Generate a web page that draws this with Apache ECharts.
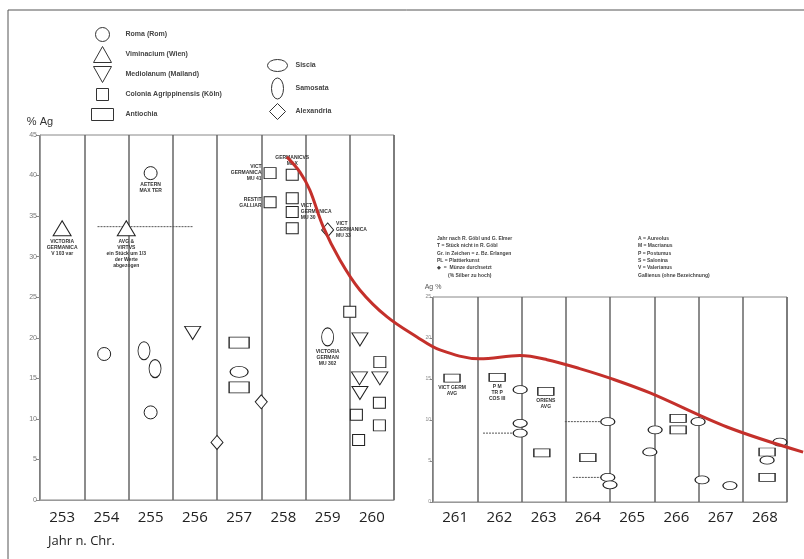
<!DOCTYPE html>
<html><head><meta charset="utf-8">
<script src="https://cdn.jsdelivr.net/npm/echarts@6/dist/echarts.min.js"></script>
<style>html,body{margin:0;padding:0;background:#fff}#c{width:804px;height:559px}</style>
</head><body><div id="c"></div>
<script>
// ---------- data ----------
const leftYears  = ['253','254','255','256','257','258','259','260'];
const rightYears = ['261','262','263','264','265','266','267','268'];
const mintNames = ['Roma (Rom)','Viminacium (Wien)','Mediolanum (Mailand)','Colonia Agrippinensis (Köln)','Antiochia','Siscia','Samosata','Alexandria'];

// left panel (year, % Ag, note)
const romaL       = [[255.0,40.3,'AETERN\nMAX TER'],[253.95,18.0],[255.0,10.8]];
const viminaciumL = [[253.0,33.5,'VICTORIA\nGERMANICA\nV 103 var'],[254.45,33.5,'AVG &\nVIRTVS\nein Stück um 1/3\nder Werte\nabgezogen']];
const mediolanumL = [[255.95,20.6],[259.73,19.8],[259.72,15.0],[259.73,13.2],[260.18,15.0]];
const coloniaL    = [[257.7,40.3,'VICT\nGERMANICA\nMU 41'],[257.7,36.7,'RESTIT\nGALLIAR'],[258.2,40.1,'GERMANICVS\nMAX'],[258.2,37.2],[258.2,35.5,'VICT\nGERMANICA\nMU 30'],[258.2,33.5],[259.5,23.2],[260.18,17.0],[260.17,12.0],[260.17,9.2],[259.65,10.5],[259.7,7.4]];
const antiochiaL  = [[257.0,19.4],[257.0,13.9]];
const sisciaL     = [[257.0,15.8]];
const samosataL   = [[254.85,18.4],[255.1,16.2],[259.0,20.1,'VICTORIA\nGERMAN\nMU 302']];
const alexandriaL = [[256.5,7.1],[257.5,12.1],[259.0,33.3,'VICT\nGERMANICA\nMU 33']];
const rangeL      = [[253.8,33.7],[255.96,33.7]];

// right panel (year, Ag %, note)
const antiochiaR = [[260.93,15.1,'VICT GERM\nAVG'],[261.95,15.2,'P M\nTR P\nCOS III'],[263.05,13.5,'ORIENS\nAVG'],[262.96,6.0],[264.0,5.4],[266.04,10.2],[266.04,8.8],[268.05,3.0],[268.05,6.1]];
const sisciaR    = [[262.47,13.7],[262.47,9.6],[262.47,8.4],[264.45,9.8],[264.45,3.0],[264.5,2.1],[265.52,8.8],[265.4,6.1],[266.49,9.8],[266.58,2.7],[267.21,2.0],[268.34,7.3],[268.05,5.1]];
const rangeR1 = [[261.63,8.4],[262.47,8.4]];
const rangeR2 = [[263.48,9.8],[264.45,9.8]];
const rangeR3 = [[263.66,3.0],[264.45,3.0]];

// trend curve (year on the left scale, % Ag)
const trendX = [258.08,258.38,258.6,258.9,259.28,259.73,260.34,261.02,261.54,262.44,263.35,263.96,264.7,265.45,266.29,268.03,269.75];
const trendY = [42.3,40.4,38.2,33.7,29.6,25.9,22.6,20.1,18.5,17.4,17.8,17.3,16.2,14.9,13.2,9.0,5.9];

const notesLeft  = ['Jahr nach R. Göbl und G. Elmer','T = Stück nicht in R. Göbl','Gr. in Zeichen = z. Bz. Erlangen','PL = Plattierkunst','◆  =  Münze durchsetzt','        (% Silber zu hoch)'];
const notesRight = ['A = Aureolus','M = Macrianus','P = Postumus','S = Salonina','V = Valerianus','Gallienus (ohne Bezeichnung)'];

// ---------- styling ----------
const notePos = {'RESTIT\nGALLIAR':'left','VICT\nGERMANICA\nMU 41':'left','GERMANICVS\nMAX':'top','VICT\nGERMANICA\nMU 30':'right','VICT\nGERMANICA\nMU 33':'right'};
const ICON = {
  circle:'path://M0,0M22,18M18,9A7,7,0,1,1,4,9A7,7,0,1,1,18,9Z',
  tri:'path://M0,0M22,18M11,1L20,17L2,17Z',
  inv:'path://M0,0M22,18M2,1L20,1L11,17Z',
  sq:'path://M0,0M22,18M5,3L17,3L17,15L5,15Z',
  rect:'path://M0,0M22,18M0,3L22,3L22,15L0,15Z',
  ell:'path://M0,0M22,22M21,11A10,6,0,1,1,1,11A10,6,0,1,1,21,11Z',
  vell:'path://M0,0M22,22M17,11A6,10.5,0,1,1,5,11A6,10.5,0,1,1,17,11Z',
  dia:'path://M0,0M22,22M11,3L19,11L11,19L3,11Z'
};
const SYM = {
  circle:'circle', tri:'triangle', inv:'path://M0,0L10,0L5,10Z', sq:'rect', rect:'rect',
  ell:'path://M0,5A5,5,0,1,1,10,5A5,5,0,1,1,0,5Z', vell:'path://M0,5A5,5,0,1,1,10,5A5,5,0,1,1,0,5Z', dia:'diamond'
};
const mintKeys = ['circle','tri','inv','sq','rect','ell','vell','dia'];
const sizesL = [13,[18,15],[16,13],[12,11],[20,11],[18,11],[12,18],[12,14]];
const leftData = [romaL,viminaciumL,mediolanumL,coloniaL,antiochiaL,sisciaL,samosataL,alexandriaL];

const txt = {fontFamily:'Liberation Sans', fontSize:5, fontWeight:'bold', color:'#333', lineHeight:6};
function items(arr){
  return arr.map(d => {
    const it = {value:d};
    if (d[2] && notePos[d[2]]) it.label = {position: notePos[d[2]]};
    return it;
  });
}
function scatter(name, key, data, size, xi, yi){
  return {
    type:'scatter', name, xAxisIndex:xi, yAxisIndex:yi, symbol:SYM[key], symbolSize:size,
    data: items(data), z:5,
    itemStyle:{color:'#fff', borderColor:'#222', borderWidth:1, opacity:1},
    label:Object.assign({show:true, position:'bottom', distance:2, formatter:p => p.value[2] || ''}, txt),
    emphasis:{disabled:true}
  };
}
function rangeLine(data, xi, yi){
  return {type:'line', xAxisIndex:xi, yAxisIndex:yi, data, symbol:'none', silent:true, z:3,
    lineStyle:{color:'#555', width:1, type:[2,1]}};
}

const series = [];
mintNames.forEach((n,i) => series.push(scatter(n, mintKeys[i], leftData[i], sizesL[i], 1, 0)));
series.push(scatter(mintNames[4], 'rect', antiochiaR, [16,8], 3, 1));
series.push(scatter(mintNames[5], 'ell', sisciaR, [14,8], 3, 1));
series.push(rangeLine(rangeL, 1, 0));
series.push(rangeLine(rangeR1, 3, 1), rangeLine(rangeR2, 3, 1), rangeLine(rangeR3, 3, 1));
series.push({type:'line', name:'Trend', xAxisIndex:4, yAxisIndex:2, smooth:0.35, symbol:'none', clip:false, silent:true, z:10,
  data: trendX.map((x,i) => [x, trendY[i]]), lineStyle:{color:'#c4302b', width:3}});

const gridLine = {show:true, lineStyle:{color:'#666', width:1.5}};
const catAxis = (gi, data, margin) => ({
  type:'category', gridIndex:gi, data, boundaryGap:true,
  axisLine:{lineStyle:{color:'#999'}}, axisTick:{show:false},
  axisLabel:{fontFamily:'Open Sans', fontSize:15, color:'#222', margin},
  splitLine:gridLine
});
const hiddenVal = (gi, min, max) => ({type:'value', gridIndex:gi, min, max, show:false});

const option = {
  animation:false,
  backgroundColor:'#fff',
  grid:[
    {left:40, top:135, width:354, height:365, show:true, borderColor:'#888', borderWidth:1},
    {left:433, top:297, width:354, height:205, show:true, borderColor:'#888', borderWidth:1},
    {left:40, top:135, width:764, height:365}
  ],
  xAxis:[
    catAxis(0, leftYears, 10),
    hiddenVal(0, 252.5, 260.5),
    catAxis(1, rightYears, 8),
    hiddenVal(1, 260.5, 268.5),
    hiddenVal(2, 252.5, 269.77)
  ],
  yAxis:[
    {type:'value', gridIndex:0, min:0, max:45, interval:5, name:'% Ag', nameGap:8,
      nameTextStyle:{fontFamily:'Liberation Sans', fontSize:11, color:'#333'},
      axisLine:{show:true, lineStyle:{color:'#999'}}, axisTick:{show:true, length:4, lineStyle:{color:'#888'}},
      axisLabel:{fontFamily:'Liberation Sans', fontSize:7, color:'#777', margin:3}, splitLine:{show:false}},
    {type:'value', gridIndex:1, min:0, max:25, interval:5, name:'Ag %', nameGap:6,
      nameTextStyle:{fontFamily:'Liberation Sans', fontSize:7, color:'#555'},
      axisLine:{show:true, lineStyle:{color:'#999'}}, axisTick:{show:true, length:3, lineStyle:{color:'#888'}},
      axisLabel:{fontFamily:'Liberation Sans', fontSize:5, color:'#888', margin:2}, splitLine:{show:false}},
    hiddenVal(2, 0, 45)
  ],
  legend:[
    {left:86, top:20, orient:'vertical', itemWidth:22, itemHeight:18, itemGap:1,
     itemStyle:{color:'#fff', borderColor:'#333', borderWidth:1},
     textStyle:{fontFamily:'Liberation Sans', fontSize:7, fontWeight:'bold', color:'#444', padding:[0,0,0,7]},
     data: mintNames.slice(0,5).map((n,i) => ({name:n, icon:ICON[mintKeys[i]]}))},
    {left:261, top:49, orient:'vertical', itemWidth:22, itemHeight:22, itemGap:0,
     itemStyle:{color:'#fff', borderColor:'#333', borderWidth:1},
     textStyle:{fontFamily:'Liberation Sans', fontSize:7, fontWeight:'bold', color:'#444', padding:[0,0,0,2]},
     data: mintNames.slice(5).map((n,i) => ({name:n, icon:ICON[mintKeys[i+5]]}))}
  ],
  graphic:[
    {type:'rect', silent:true, shape:{x:8, y:10, width:820, height:580}, style:{fill:'none', stroke:'#555', lineWidth:1}},
    {type:'text', left:48, top:535, style:{text:'Jahr n. Chr.', font:'13px "Open Sans"', fill:'#222'}},
    {type:'text', left:437, top:235, style:{text:notesLeft.join('\n'), font:'bold 5px "Liberation Sans"', fill:'#444', lineHeight:7.3}},
    {type:'text', left:638, top:235, style:{text:notesRight.join('\n'), font:'bold 5px "Liberation Sans"', fill:'#444', lineHeight:7.3}}
  ],
  series
};
echarts.init(document.getElementById('c'), null, {renderer:'canvas'}).setOption(option);
</script></body></html>
